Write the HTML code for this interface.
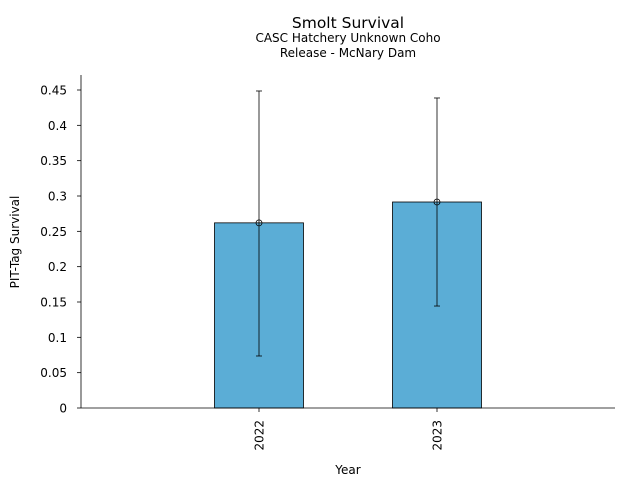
<!DOCTYPE html>
<html><head><meta charset="utf-8"><style>
body{margin:0;background:#fff;}
svg{display:block;font-family:"DejaVu Sans","Liberation Sans",sans-serif;}
</style></head><body>
<svg id="chart" width="640" height="480">
<text x="348" y="28" font-size="15.5" text-anchor="middle">Smolt Survival</text>
<text x="348" y="42" font-size="12" text-anchor="middle">CASC Hatchery Unknown Coho</text>
<text x="348" y="57" font-size="12" text-anchor="middle">Release - McNary Dam</text>
<text x="348" y="474" font-size="12" text-anchor="middle">Year</text>
<text transform="translate(19,242) rotate(-90)" font-size="12" text-anchor="middle">PIT-Tag Survival</text>
<g id="plot"></g>
</svg>
<script>
const categories=["2022","2023"];
const survival=[0.262,0.2915];
const errLow=[0.0736,0.1443];
const errHigh=[0.4486,0.4387];
const yTicks=[0,0.05,0.1,0.15,0.2,0.25,0.3,0.35,0.4,0.45];
const yTickLabels=["0","0.05","0.1","0.15","0.2","0.25","0.3","0.35","0.4","0.45"];
const L=81,R=615,T=75,B=408;
const y=v=>B-v*(B-90)/0.45;
const x=i=>L+(i+1)*(R-L)/3;
const NS="http://www.w3.org/2000/svg";
const g=document.getElementById('plot');
function mk(t,a){const e=document.createElementNS(NS,t);for(const k in a)e.setAttribute(k,a[k]);g.appendChild(e);return e;}
categories.forEach((c,i)=>{
 const cx=x(i),hw=44.5;
 const b=mk('rect',{x:cx-hw,y:y(survival[i]),width:2*hw,height:B-y(survival[i]),fill:'#5badd6',stroke:'#000','stroke-width':0.8});
 
 
 const e=mk('line',{x1:cx,x2:cx,y1:y(errHigh[i]),y2:y(errLow[i]),stroke:'#000','stroke-width':0.8});
 
 
 [errHigh[i],errLow[i]].forEach(v=>{const cap=mk('line',{x1:cx-3,x2:cx+3,y1:y(v),y2:y(v),stroke:'#000','stroke-width':0.8});
 
 });
 const p=mk('circle',{cx:cx,cy:y(survival[i]),r:3,fill:'none',stroke:'#000','stroke-width':0.8});
 
 
 const tk=mk('line',{x1:cx,x2:cx,y1:B,y2:B+4,stroke:'#000','stroke-width':0.8});
 
 
 const t=mk('text',{transform:`translate(${cx+4.5},${B+12}) rotate(-90)`,'font-size':12,'text-anchor':'end'});
 t.textContent=c;
 
 
});
yTicks.forEach((v,i)=>{
 const tk=mk('line',{x1:L-4,x2:L,y1:y(v),y2:y(v),stroke:'#000','stroke-width':0.8});
 
 
 const t=mk('text',{x:L-14,y:y(v)+4.5,'font-size':12,'text-anchor':'end'});
 t.textContent=yTickLabels[i];
 
 
});
const ax=mk('line',{x1:L,x2:L,y1:T,y2:B,stroke:'#000','stroke-width':0.8});


const bx=mk('line',{x1:L,x2:R,y1:B,y2:B,stroke:'#000','stroke-width':0.8});


</script>
</body></html>
